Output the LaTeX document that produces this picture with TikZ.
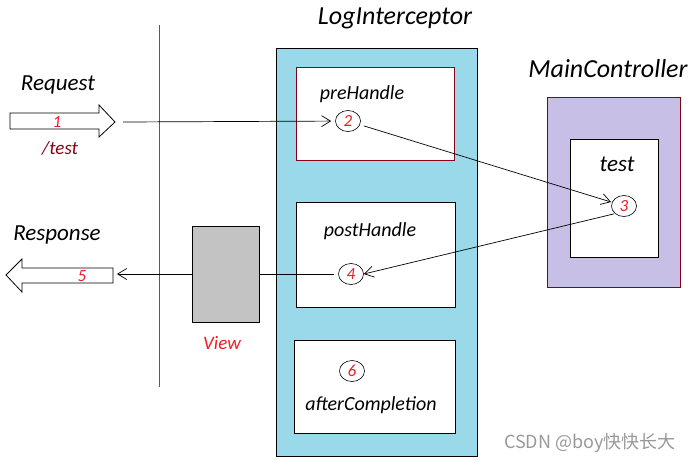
\documentclass[tikz,border=0pt]{standalone}
\usepackage{fontspec}
\setmainfont{Carlito}
\newfontfamily\cjk{Noto Sans CJK SC}
\usepackage{xcolor}
\usepackage{tikz}
\usetikzlibrary{arrows.meta}
\usetikzlibrary{shapes.geometric}
\usetikzlibrary{positioning}

\definecolor{paintblue}{RGB}{153,217,234}
\definecolor{paintlilac}{RGB}{200,191,231}
\definecolor{paintgray}{RGB}{195,195,195}
\definecolor{paintred}{RGB}{237,28,36}
\definecolor{darkred}{RGB}{136,0,21}

\begin{document}
\begin{tikzpicture}[x=1pt,y=-1pt,semithick,>={Straight Barb[length=9pt,width=11pt]}]
  \tikzset{box/.style={draw=black, fill=white, line width=0.8pt, inner sep=0pt, outer sep=0pt},
           lbl/.style={font=\itshape, text height=1.5ex, text depth=.25ex, inner sep=0pt, yshift=-4pt},
           num/.style={ellipse, draw=black, line width=0.6pt, minimum width=25pt, minimum height=21pt,
                       inner sep=0pt, text=paintred, font=\itshape\fontsize{17}{17}\selectfont},
           flow/.style={line width=0.7pt}}
  \useasboundingbox (0,0) rectangle (696,464);

  % left side
  \draw[paintred, line width=1.2pt] (159.5,25) -- (159.5,387);
  \draw[line width=0.8pt, fill=white] (10,113) -- (99,113) -- (99,105) -- (115,122)
        -- (99,137) -- (99,129) -- (10,129) -- cycle;
  \draw[line width=0.8pt, fill=white] (113,268) -- (22,268) -- (22,259) -- (6,275)
        -- (22,292) -- (22,283) -- (113,283) -- cycle;
  \node[lbl, font=\itshape\fontsize{23}{23}\selectfont] (req) at (58,84) {Request};
  \node[lbl, font=\itshape\fontsize{23}{23}\selectfont] (resp) at (57,234) {Response};
  \node[lbl, text=paintred, font=\itshape\fontsize{17}{17}\selectfont] (n1) at (57,121) {1};
  \node[lbl, text=paintred, font=\itshape\fontsize{17}{17}\selectfont] (n5) at (82,275) {5};
  \node[lbl, text=darkred, font=\itshape\fontsize{19}{19}\selectfont] (url) at (60,148) {/test};
  \coordinate (reqend) at (123,122);
  \coordinate (respend) at (117,274);

  % view
  \node[box, fill=paintgray, minimum width=67pt, minimum height=96pt] (view) at (225.5,274) {};
  \node[lbl, text=paintred, font=\itshape\fontsize{19}{19}\selectfont] (viewlbl) at (222,343) {View};

  % interceptor
  \node[box, fill=paintblue, minimum width=201pt, minimum height=408pt] (li) at (376.5,252) {};
  \node[lbl, font=\itshape\fontsize{26}{26}\selectfont] (litext) at (395,18) {LogInterceptor};
  \node[box, draw=darkred, minimum width=158pt, minimum height=93pt] (pre) at (375,113.5) {};
  \node[box, minimum width=159pt, minimum height=105pt] (post) at (375.5,254.5) {};
  \node[box, minimum width=161pt, minimum height=93pt] (after) at (374.5,386.5) {};
  \node[lbl, font=\itshape\fontsize{20}{20}\selectfont] at (362,93) {preHandle};
  \node[lbl, font=\itshape\fontsize{20}{20}\selectfont] at (370,230) {postHandle};
  \node[lbl, font=\itshape\fontsize{20}{20}\selectfont] at (371,404) {afterCompletion};
  \node[num] (c2) at (348,121) {2};
  \node[num] (c4) at (351,274) {4};
  \node[num] (c6) at (352,371) {6};

  % controller
  \node[box, draw=darkred, fill=paintlilac, minimum width=133pt, minimum height=190pt] (mc) at (613.5,192) {};
  \node[lbl, font=\itshape\fontsize{26}{26}\selectfont] (mctext) at (608,71) {MainController};
  \node[box, minimum width=88pt, minimum height=118pt] (tst) at (614,198) {};
  \node[lbl, font=\itshape\fontsize{23}{23}\selectfont] at (617,165) {test};
  \node[num] (c3) at (624,206) {3};

  % flow
  \draw[flow,->,shorten >=4pt] (reqend) -- (c2);
  \draw[flow,->,shorten <=4pt,shorten >=1pt] (c2) -- (c3);
  \draw[flow,->,shorten <=1pt] (c3.south west) -- (c4.east);
  \draw[flow,shorten <=4pt] (c4.west) -- (view.east);
  \draw[flow,->] (view.west) -- (respend);

  \node[text=gray!80, font=\cjk\fontsize{18}{18}\selectfont] (mark) at (590,443) {CSDN @boy快快长大};
\end{tikzpicture}
\end{document}
